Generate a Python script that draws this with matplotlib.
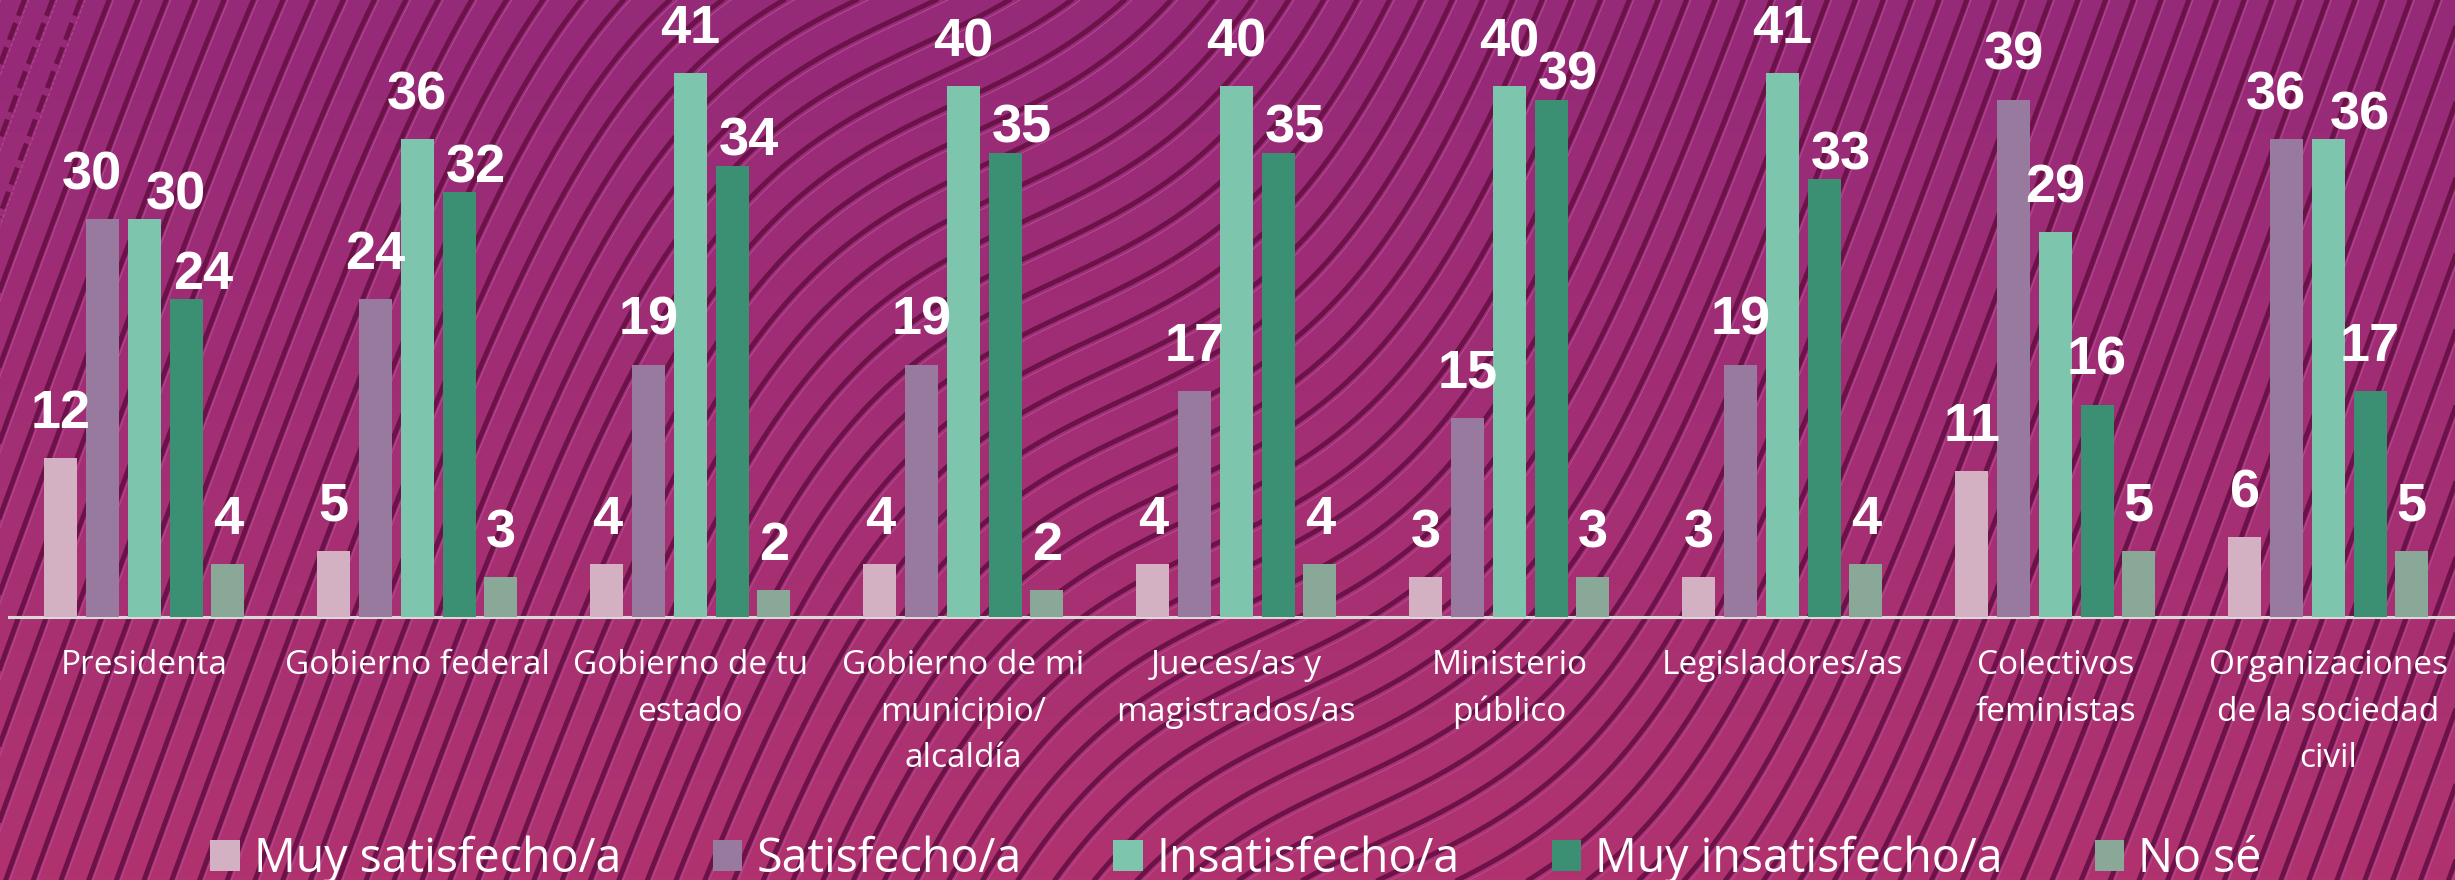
import numpy as np
import matplotlib.pyplot as plt
from matplotlib.patches import Patch

categories = ["Presidenta", "Gobierno federal", "Gobierno de tu\nestado",
              "Gobierno de mi\nmunicipio/\nalcaldía", "Jueces/as y\nmagistrados/as",
              "Ministerio\npúblico", "Legisladores/as", "Colectivos\nfeministas",
              "Organizaciones\nde la sociedad\ncivil"]
series = ["Muy satisfecho/a", "Satisfecho/a", "Insatisfecho/a", "Muy insatisfecho/a", "No sé"]
muy_satisfecho = [12, 5, 4, 4, 4, 3, 3, 11, 6]
satisfecho = [30, 24, 19, 19, 17, 15, 19, 39, 36]
insatisfecho = [30, 36, 41, 40, 40, 40, 41, 29, 36]
muy_insatisfecho = [24, 32, 34, 35, 35, 39, 33, 16, 17]
no_se = [4, 3, 2, 2, 4, 3, 4, 5, 5]
colors = ["#D3B1C3", "#977A9E", "#7DC6AD", "#3B8F72", "#8AA898"]

W, H = 2455, 880
fig = plt.figure(figsize=(W / 100, H / 100), dpi=100)

# background: gradient + wavy embossed lines
bg = fig.add_axes([0, 0, 1, 1], zorder=-5)
bg.set_xlim(0, W); bg.set_ylim(0, H); bg.axis("off")
top_c = np.array([0x95, 0x2A, 0x79]) / 255
bot_c = np.array([0xB0, 0x33, 0x6F]) / 255
t = np.linspace(0, 1, 200)[:, None]
grad = (bot_c * (1 - t) + top_c * t)[:, None, :].repeat(2, axis=1)
bg.imshow(grad, extent=[0, W, 0, H], origin="lower", aspect="auto", zorder=0)

X, Y = np.meshgrid(np.linspace(-20, W + 20, 1700), np.linspace(-20, H + 20, 640))
n = np.array([0.868, 0.496])
d = (X - 1150) * n[0] + (Y - 440) * n[1]
phi = 0.94 * X - 0.342 * Y - 0.709 * 300 * np.tanh(d / 300)
lev = np.arange(phi.min() - 30, phi.max() + 30, 26)
bg.contour(X, Y, phi, levels=lev + 4, colors="#B34892", linewidths=0.8, zorder=1)
bg.contour(X, Y, phi, levels=lev, colors="#6B1248", linewidths=3.5, zorder=2)

# chart
ax = fig.add_axes([9 / W, 263 / H, 1 - 9 / W, 597 / H])
ax.patch.set_alpha(0)
x = np.arange(len(categories))
step, width = 0.153, 0.121
vals = [muy_satisfecho, satisfecho, insatisfecho, muy_insatisfecho, no_se]
for i, (name, v, c) in enumerate(zip(series, vals, colors)):
    ax.bar(x + (i - 2) * step, v, width, color=c, label=name, zorder=3)

ax.set_xlim(-0.496, 8.464)
ax.set_ylim(0, 45)
for s in ["top", "left", "right"]:
    ax.spines[s].set_visible(False)
ax.spines["bottom"].set_color("#D9D9D9")
ax.spines["bottom"].set_linewidth(2.2)
ax.set_yticks([])
ax.set_xticks(x, categories)
ax.tick_params(axis="x", length=0, pad=23, labelsize=24, labelcolor="white")
for lab in ax.get_xticklabels():
    lab.set_family("Open Sans")
    lab.set_linespacing(1.55)

# value labels, nudged right when they would hit a taller neighbour
r = fig.canvas.get_renderer()
to_px = ax.transData.transform
to_data = ax.transData.inverted().transform
gap, low_gap, pad = 30, 10, 12
fs = 39
h = 0.716 * fs * 100 / 72
for g in range(len(categories)):
    placed = []
    texts = []
    for i in range(len(series)):
        v = vals[i][g]
        xc = g + (i - 2) * step
        cx, top = to_px((xc, v))
        txt = ax.text(0, 0, str(v), fontsize=fs, weight="bold", family="Liberation Sans",
                      color="white", ha="center", va="baseline", zorder=5)
        w = txt.get_window_extent(r).width
        base = top + gap
        if i > 0:
            lv = vals[i - 1][g]
            left_edge = to_px((xc - step + width / 2, 0))[0]
            if lv > v and lv - v < 9.5 and cx - w / 2 < left_edge:
                cx = left_edge + pad + w / 2
                base = top + low_gap
            else:
                px0, px1, py0, py1 = placed[-1]
                if cx - w / 2 < px1 and base < py1 and base + h > py0:
                    need = px1 + pad - (cx - w / 2)
                    # split the push: previous label left, this one right
                    shift_l = need * 0.35
                    placed[-1] = (px0 - shift_l, px1 - shift_l, py0, py1)
                    ptxt, (pcx, pbase) = texts[-1]
                    texts[-1] = (ptxt, (pcx - shift_l, pbase))
                    cx = cx + need - shift_l + pad
                    base = top + low_gap
        placed.append((cx - w / 2, cx + w / 2, base, base + h))
        texts.append((txt, (cx, base)))
    for txt, pos in texts:
        txt.set_position(to_data(pos))

handles = [Patch(facecolor=c, edgecolor="none", label=s) for s, c in zip(series, colors)]
fig.legend(handles=handles, loc="center", bbox_to_anchor=(0.5034, 21 / H), ncol=5,
           frameon=False, labelcolor="white", handlelength=0.63, handleheight=0.63,
           handletextpad=0.3, columnspacing=1.98, borderaxespad=0,
           prop={"family": "Open Sans", "size": 33.5})

fig.savefig("out.png", dpi=100)
